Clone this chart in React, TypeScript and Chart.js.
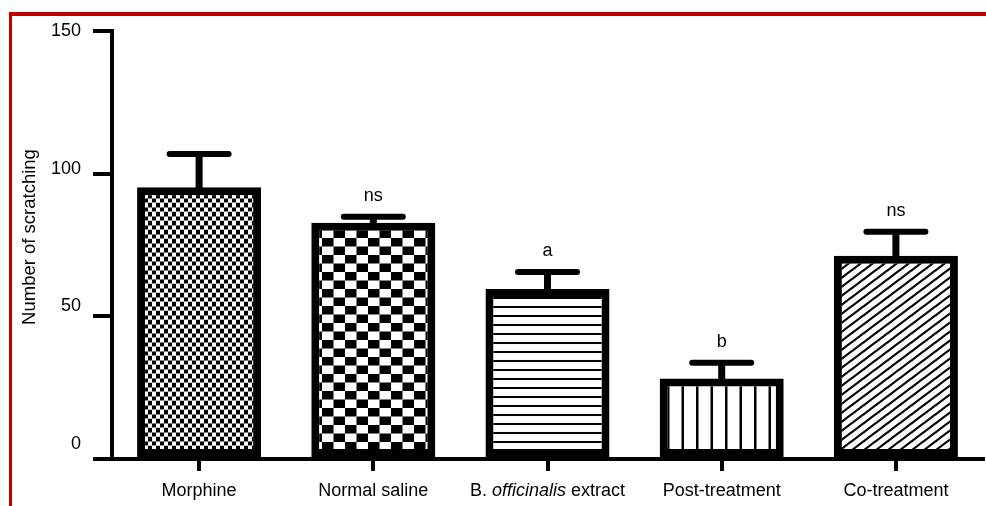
import React, { useEffect, useRef } from 'react';
import { Chart, registerables } from 'chart.js';

Chart.register(...registerables);

const categories = ['Morphine', 'Normal saline', 'B. officinalis extract', 'Post-treatment', 'Co-treatment'];
const means = [95.2, 82.8, 59.6, 28.2, 71.2];
const sem = [11.7, 2.1, 5.9, 5.5, 8.4];
const significance = ['', 'ns', 'a', 'b', 'ns'];
const patternKinds = ['fineChecker', 'checker', 'hlines', 'vlines', 'diag'];
const yTicks = [0, 50, 100, 150];
const yTitle = 'Number of scratching';

const FONT = "'Liberation Sans', Arial, sans-serif";

function makePattern(ctx: CanvasRenderingContext2D, kind: string): CanvasPattern | string {
  const c = document.createElement('canvas');
  const g = c.getContext('2d')!;
  const set = (w: number, h: number) => {
    c.width = w;
    c.height = h;
    g.fillStyle = '#fff';
    g.fillRect(0, 0, w, h);
    g.fillStyle = '#000';
    g.strokeStyle = '#000';
  };
  switch (kind) {
    case 'fineChecker':
      set(8, 9);
      g.fillRect(0, 0.5, 4, 4);
      g.fillRect(4, 5, 4, 4);
      g.fillRect(4, -0.5, 4, 1);
      g.fillStyle = '#999';
      g.fillRect(0, 4.5, 8, 0.5);
      break;
    case 'checker':
      set(23, 17);
      g.fillRect(0, 0, 11.5, 8.5);
      g.fillRect(11.5, 8.5, 11.5, 8.5);
      break;
    case 'hlines':
      set(4, 9);
      g.fillRect(0, 0, 4, 2);
      break;
    case 'vlines':
      set(29, 4);
      g.fillRect(0, 0, 2.5, 4);
      g.fillRect(14.5, 0, 2.5, 4);
      break;
    case 'diag':
      set(12, 9);
      g.lineWidth = 2.2;
      [[0, 9, 12, 0], [0, 0, 12, -9], [0, 18, 12, 9]].forEach(([x1, y1, x2, y2]) => {
        g.beginPath();
        g.moveTo(x1 - 2, y1 + 1.5);
        g.lineTo(x2 + 2, y2 - 1.5);
        g.stroke();
      });
      break;
    default:
      set(2, 2);
  }
  return ctx.createPattern(c, 'repeat') || '#fff';
}

const errorBarsPlugin = {
  id: 'errorBars',
  afterDatasetsDraw(chart: any) {
    const ctx: CanvasRenderingContext2D = chart.ctx;
    const y = chart.scales.y;
    const meta = chart.getDatasetMeta(0);
    ctx.save();
    meta.data.forEach((bar: any, i: number) => {
      const x = bar.x;
      const yTop = y.getPixelForValue(means[i]);
      const yCap = y.getPixelForValue(means[i] + sem[i]);
      ctx.fillStyle = '#000';
      ctx.fillRect(x - 3.5, yCap, 7, yTop - yCap + 4);
      ctx.strokeStyle = '#000';
      ctx.lineCap = 'round';
      ctx.lineWidth = 6;
      ctx.beginPath();
      ctx.moveTo(x - 29.5, yCap);
      ctx.lineTo(x + 29.5, yCap);
      ctx.stroke();
      if (significance[i]) {
        ctx.font = `18px ${FONT}`;
        ctx.textAlign = 'center';
        ctx.textBaseline = 'alphabetic';
        ctx.fillText(significance[i], x, yCap - 16);
      }
    });
    ctx.restore();
  },
};

const labelsPlugin = {
  id: 'customLabels',
  afterDraw(chart: any) {
    const ctx: CanvasRenderingContext2D = chart.ctx;
    const y = chart.scales.y;
    const xs = chart.scales.x;
    ctx.save();
    ctx.fillStyle = '#000';
    // y tick labels
    ctx.font = `18px ${FONT}`;
    ctx.textAlign = 'right';
    ctx.textBaseline = 'middle';
    yTicks.forEach((v) => {
      ctx.fillText(String(v), 81, y.getPixelForValue(v) - (150 - v) * 0.1);
    });
    // x labels
    ctx.textBaseline = 'alphabetic';
    categories.forEach((label, i) => {
      const cx = xs.getPixelForTick(i);
      const by = 496;
      if (label.startsWith('B. officinalis')) {
        const parts: [string, string][] = [
          ['B. ', `18px ${FONT}`],
          ['officinalis', `italic 18px ${FONT}`],
          [' extract', `18px ${FONT}`],
        ];
        let total = 0;
        parts.forEach(([t, f]) => {
          ctx.font = f;
          total += ctx.measureText(t).width;
        });
        let px = cx - total / 2;
        ctx.textAlign = 'left';
        parts.forEach(([t, f]) => {
          ctx.font = f;
          ctx.fillText(t, px, by);
          px += ctx.measureText(t).width;
        });
      } else {
        ctx.font = `18px ${FONT}`;
        ctx.textAlign = 'center';
        ctx.fillText(label, cx, by);
      }
    });
    // y title
    ctx.translate(30, 237);
    ctx.rotate(-Math.PI / 2);
    ctx.font = `18.5px ${FONT}`;
    ctx.textAlign = 'center';
    ctx.textBaseline = 'middle';
    ctx.fillText(yTitle, 0, 0);
    ctx.restore();
  },
};

export default function App() {
  const canvasRef = useRef<HTMLCanvasElement | null>(null);

  useEffect(() => {
    const canvas = canvasRef.current;
    if (!canvas) return;
    const ctx = canvas.getContext('2d')!;
    const patterns = patternKinds.map((k) => makePattern(ctx, k));
    const chart = new Chart(canvas, {
      type: 'bar',
      data: {
        labels: categories,
        datasets: [
          {
            data: means,
            backgroundColor: patterns as any,
            borderColor: '#000',
            borderWidth: 8,
            borderSkipped: false,
            barPercentage: 0.712,
            categoryPercentage: 1,
          },
        ],
      },
      options: {
        animation: false,
        responsive: true,
        maintainAspectRatio: false,
        events: [],
        layout: { padding: { left: 0, top: 31, right: 3, bottom: 0 } },
        plugins: {
          legend: { display: false },
          tooltip: { enabled: false },
          title: { display: false },
        },
        scales: {
          x: {
            offset: true,
            ticks: { display: false },
            grid: {
              offset: false,
              drawOnChartArea: false,
              drawTicks: true,
              tickLength: 12,
              lineWidth: 4,
              color: '#000',
            },
            border: { display: true, color: '#000', width: 4 },
            afterFit: (scale: any) => {
              scale.height = 47;
            },
          },
          y: {
            min: 0,
            max: 150,
            ticks: { display: false, stepSize: 50 },
            grid: {
              drawOnChartArea: false,
              drawTicks: true,
              tickLength: 19,
              lineWidth: 4,
              color: '#000',
            },
            border: { display: true, color: '#000', width: 4 },
            afterFit: (scale: any) => {
              scale.width = 112;
            },
          },
        },
      },
      plugins: [errorBarsPlugin, labelsPlugin],
    });
    return () => chart.destroy();
  }, []);

  return (
    <div style={{ position: 'fixed', left: 0, top: 0, width: 986, height: 506, background: '#fff', overflow: 'hidden' }}>
      <canvas ref={canvasRef} style={{ display: 'block', width: 986, height: 506 }} />
      <div style={{ position: 'absolute', left: 9, top: 12, width: 977, height: 4, background: '#c00000' }} />
      <div style={{ position: 'absolute', left: 9, top: 12, width: 3, height: 494, background: '#c00000' }} />
    </div>
  );
}
